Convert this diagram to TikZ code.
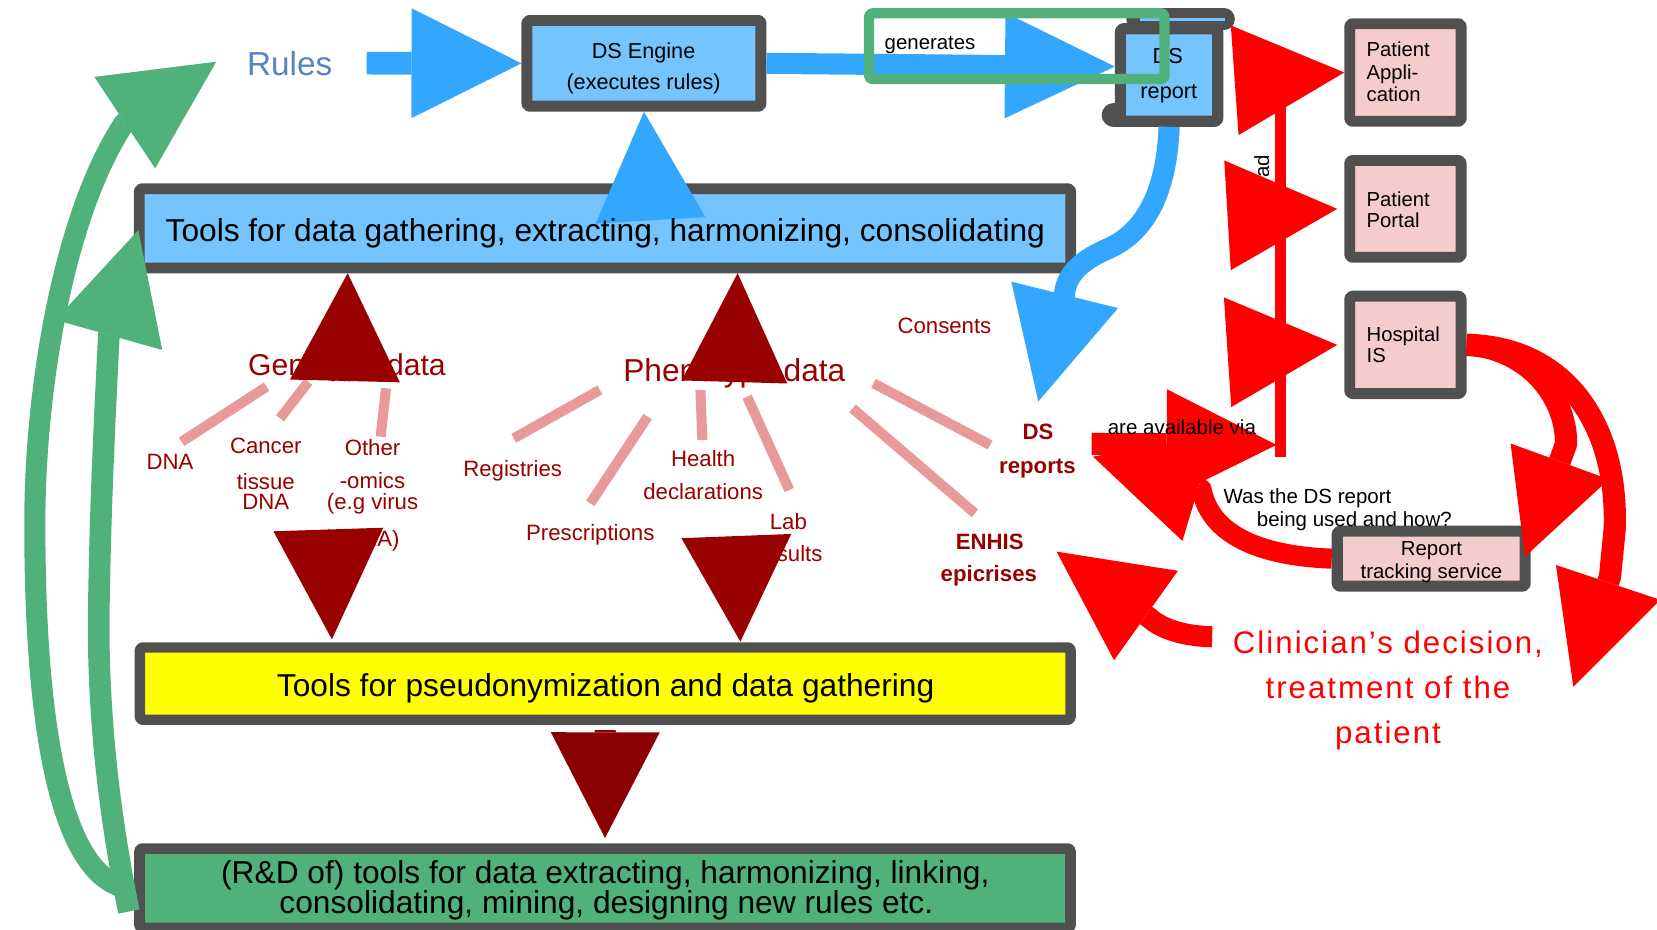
\documentclass[tikz,border=0pt]{standalone}
\usepackage{fontspec}
\setmainfont{Liberation Sans}
\usetikzlibrary{arrows.meta}

\definecolor{framegray}{RGB}{80,80,80}
\definecolor{skyfill}{RGB}{117,196,253}
\definecolor{flowblue}{RGB}{51,167,255}
\definecolor{rulesblue}{RGB}{85,132,196}
\definecolor{leafgreen}{RGB}{80,178,122}
\definecolor{maroon}{RGB}{153,0,0}
\definecolor{deepmaroon}{RGB}{139,0,0}
\definecolor{rosyline}{RGB}{232,153,153}
\definecolor{signalred}{RGB}{255,0,0}
\definecolor{rosefill}{RGB}{244,204,204}
\definecolor{lemon}{RGB}{255,255,0}

\newcommand{\sz}[1]{\fontsize{#1}{#1}\selectfont}

\begin{document}
\begin{tikzpicture}[x=1pt, y=-1pt,
  box/.style={draw=framegray, line width=10pt, rounded corners=2.5pt, inner sep=0pt},
  lbl/.style={anchor=base, inner sep=0pt},
  lblw/.style={anchor=base west, inner sep=0pt},
  leaf/.style={lbl, text=maroon, font=\sz{21}},
  leafb/.style={lbl, text=maroon, font=\bfseries\sz{21}},
  note/.style={lblw, font=\sz{19.4}},
  boxtxt/.style={lblw, font=\sz{19.2}},
  claim/.style={lbl, text=signalred, font=\sz{29.5}\addfontfeature{LetterSpace=6.5}},
  twig/.style={rosyline, line width=9.5pt},
  head/.style 2 args={-{Triangle[length=#1pt, width=#2pt, line width=0pt]}},
  line join=round
]
\useasboundingbox (0,0) rectangle (1568,880);

% ---------- end points of the free connectors ----------
\coordinate (dsin)        at (982.5,380);
\coordinate (toolsup)     at (615.3,204.2);
\coordinate (genoup)      at (326.4,361);
\coordinate (genoupend)   at (329,258.5);
\coordinate (genodown)    at (310.7,500.4);
\coordinate (genodownend) at (314.1,605);
\coordinate (phenoup)     at (695,361.8);
\coordinate (phenoupend)  at (698,258.5);
\coordinate (phenodown)   at (696.75,507);
\coordinate (phenodownend) at (700.6,607.2);
\coordinate (rulesgreen)  at (204.6,58.4);
\coordinate (toolsgreen)  at (130.9,217.8);
\coordinate (hubtop)      at (1212,80);
\coordinate (hubbot)      at (1212,432);
\coordinate (availsrc)    at (1033,420);
\coordinate (availtip)    at (1208,421);
\coordinate (usedtip)     at (1034.3,432.1);
\coordinate (innertip)    at (1443,526.8);
\coordinate (outertip)    at (1488.8,649.8);
\coordinate (clinsrc)     at (1147,602.5);
\coordinate (enhistip)    at (999.8,522);
\coordinate (appbase)     at (1172,75.7);
\coordinate (portalbase)  at (1166.1,203.5);
\coordinate (hospbase)    at (1166.1,333);

% ---------- thin links from the data groups to their items ----------
\draw[twig] (252.3,365.9) -- (171.9,418);
\draw[twig] (291.8,361.2) -- (265,395.8);
\draw[twig] (365.3,367.5) -- (360.2,413.2);
\draw[twig] (567.6,369) -- (486.2,414.8);
\draw[twig] (612.9,394.3) -- (558.6,476.3);
\draw[twig] (662.8,369) -- (664.6,416.4);
\draw[twig] (707,375.4) -- (746.9,463.7);
\draw[twig] (806.7,386.4) -- (922.5,485.7);
\draw[twig] (826.6,362.7) -- (937,421.1);

% ---------- DS engine ----------
\node[box, fill=skyfill, line width=10.4pt, minimum width=221.5pt, minimum height=81.1pt] (engine) at (609.35,59.95) {};
\node[lbl, font=\sz{20.5}] (engineA) at (609,55) {DS Engine};
\node[lbl, font=\sz{20.5}] (engineB) at (609,85) {(executes rules)};

% ---------- DS report (scroll) ----------
\draw[framegray, line width=20.5pt, line cap=round] (1076,18.2) -- (1158.3,18.2);
\draw[framegray, line width=23pt, line cap=round] (1054,108.8) -- (1066,108.8);
\node[box, fill=skyfill, line width=10.5pt, minimum width=92.1pt, minimum height=87.5pt] (dsr) at (1106.3,71) {};
\draw[skyfill, line width=2.6pt] (1079,18.6) -- (1159,18.6);
\node[lbl, font=\sz{20.5}] (dsrA) at (1105,60) {DS};
\node[lbl, font=\sz{20.5}] (dsrB) at (1106,93) {report};

% ---------- tool bars ----------
\node[box, fill=skyfill, line width=10.2pt, minimum width=881.4pt, minimum height=74.9pt] (tools) at (572.5,216.05) {};
\draw[flowblue, line width=1pt, head={103}{104}] (toolsup) -- (engine.south);
\node[lbl, font=\sz{30}] (toolsT) at (572.8,228.7) {Tools for data gathering, extracting, harmonizing, consolidating};

\node[box, fill=lemon, line width=9.8pt, minimum width=880.7pt, minimum height=68.4pt] (pseudo) at (572.75,646.9) {};
\node[lbl, font=\sz{30}] (pseudoT) at (573.1,659.2) {Tools for pseudonymization and data gathering};

\node[box, fill=leafgreen, minimum width=881pt, minimum height=75pt] (rd) at (572.5,840.5) {};
\node[lbl, font=\sz{30}] (rdA) at (572.8,835.9) {(R\&D of) tools for data extracting, harmonizing, linking,};
\node[lbl, font=\sz{30}] (rdB) at (573.8,864.3) {consolidating, mining, designing new rules etc.};

% ---------- consumers ----------
\node[box, fill=rosefill, line width=10.3pt, minimum width=105.4pt, minimum height=92.3pt] (patapp) at (1329.95,68.6) {};
\node[boxtxt] (patappA) at (1293,53.6) {Patient};
\node[boxtxt] (patappB) at (1293,75.7) {Appli-};
\node[boxtxt] (patappC) at (1293,96.2) {cation};

\node[box, fill=rosefill, line width=10.3pt, minimum width=105.4pt, minimum height=91.6pt] (portal) at (1329.95,197.65) {};
\node[boxtxt] (portalA) at (1293,195.6) {Patient};
\node[boxtxt] (portalB) at (1293,215.4) {Portal};

\node[box, fill=rosefill, line width=10.3pt, minimum width=105.4pt, minimum height=92.2pt] (hosp) at (1329.95,326.35) {};
\node[boxtxt] (hospA) at (1293,323.3) {Hospital};
\node[boxtxt] (hospB) at (1293,343.2) {IS};

\node[box, fill=rosefill, line width=10.5pt, minimum width=177.8pt, minimum height=52pt] (rts) at (1354.35,528.65) {};
\node[lbl, font=\sz{19.3}] (rtsA) at (1354.6,525.2) {Report};
\node[lbl, font=\sz{19.3}] (rtsB) at (1354.6,547.3) {tracking service};

% ---------- rules and the blue flow ----------
\node[lblw, text=rulesblue, font=\sz{31.5}] (rules) at (233.6,71) {Rules};
\draw[flowblue, line width=21.5pt, head={104}{104}] ([xshift=32.5pt]rules.east) -- (engine.west);
\draw[flowblue, line width=20pt, head={104}{100}] (engine.east) -- ([yshift=8pt]dsr.west);

\node[draw=leafgreen, line width=9.7pt, rounded corners=3pt, inner sep=0pt,
      minimum width=279.6pt, minimum height=62.2pt] (genframe) at (962.2,43.7) {};
\node[lblw, font=\sz{19.3}] (gen) at (837,47) {generates};

\draw[flowblue, line width=20pt, head={104}{104}] (dsr.south)
  .. controls (1104,180) and (1085,220) .. (1047,236)
  .. controls (1020,248) and (1008,262) .. (1007,281) -- (dsin);

% ---------- data groups ----------
\node[lbl, text=maroon, font=\sz{28.5}] (geno) at (328.3,355.8) {Genotype data};
\node[lbl, text=maroon, font=\sz{30}] (pheno) at (694.9,361.2) {Phenotype data};

\node[leaf] (dna) at (160.9,444) {DNA};
\node[leaf] (cancerA) at (251.5,429.6) {Cancer};
\node[leaf] (cancerB) at (251.5,463) {tissue};
\node[leaf] (cancerC) at (251.5,482) {DNA};
\node[leaf] (otherA) at (352.5,431.2) {Other};
\node[leaf] (otherB) at (352.5,462.1) {-omics};
\node[leaf] (otherC) at (352.5,482) {(e.g virus};
\node[leaf] (otherD) at (352.5,517.3) {RNA)};
\node[leaf] (registries) at (485.1,451) {Registries};
\node[leaf] (prescr) at (558.6,511.6) {Prescriptions};
\node[leaf] (healthA) at (665.4,441.6) {Health};
\node[leaf] (healthB) at (665.4,472.2) {declarations};
\node[leaf] (labA) at (746,500.9) {Lab};
\node[leaf] (labB) at (747.4,531.5) {results};
\node[leaf] (consents) at (893.7,316) {Consents};
\node[leafb] (dsrepA) at (982.2,415.7) {DS};
\node[leafb] (dsrepB) at (981.7,447.9) {reports};
\node[leafb] (enhisA) at (936.5,519.8) {ENHIS};
\node[leafb] (enhisB) at (935.7,550.4) {epicrises};

% ---------- dark red flow ----------
\draw[maroon, line width=1pt, head={102}{104}] (genoup) -- (genoupend);
\draw[maroon, line width=1pt, head={104}{104}] (genodown) -- (genodownend);
\draw[maroon, line width=1pt, head={103}{100}] (phenoup) -- (phenoupend);
\draw[maroon, line width=1pt, head={100}{104}] (phenodown) -- (phenodownend);
\draw[deepmaroon, line width=20pt, head={100}{103}] ([yshift=-5pt]pseudo.south) -- ([yshift=5pt]rd.north);

% ---------- green feedback ----------
\draw[leafgreen, line width=20pt, head={104}{104}] ([xshift=-5pt]rd.west)
  .. controls (58,832) and (32,690) .. (33,487)
  .. controls (34,360) and (62,200) .. (117.7,116.3) -- (rulesgreen);
\draw[leafgreen, line width=20.5pt, head={103}{105}] ([xshift=-5pt,yshift=-22pt]rd.west)
  .. controls (105,780) and (92,680) .. (93.5,577)
  .. controls (95,470) and (100,380) .. (103,317) -- (toolsgreen);

% ---------- red delivery ----------
\node[rotate=90, inner sep=0pt, font=\sz{19.4}] (readtag) at (1194,157.6) {ad};
\draw[signalred, line width=10.5pt] (hubtop) -- (hubbot);
\draw[signalred, line width=1pt, head={104}{104}] (appbase) -- (patapp.west);
\draw[signalred, line width=1pt, head={104}{104}] (portalbase) -- ([xshift=-6.7pt]portal.west);
\draw[signalred, line width=1pt, head={104}{104}] (hospbase) -- ([xshift=-6.7pt]hosp.west);
\draw[signalred, line width=21pt, head={104}{104}] (availsrc) -- (availtip);
\draw[signalred, line width=19pt, head={104}{104}] (rts.west)
  .. controls (1190,526) and (1145,505) .. (1137,463) -- (usedtip);
\draw[signalred, line width=21pt, head={96}{99}] (hosp.east)
  .. controls (1440,328) and (1482,370) .. (1482,420) -- (innertip);
\draw[signalred, line width=21pt, head={104}{104}] (hosp.east)
  .. controls (1480,328) and (1531,400) .. (1528,500) -- (1523.5,545.7) -- (outertip);
\draw[signalred, line width=20pt, head={104}{104}] (clinsrc)
  .. controls (1118,602) and (1098,594) .. (1088,585) -- (enhistip);

% ---------- notes ----------
\node[note] (avail) at (1048.1,410.7) {are available via};
\node[note] (usedA) at (1157.6,476.9) {Was the DS report};
\node[note] (usedB) at (1189.2,498.4) {being used and how?};

\node[claim] (clinA) at (1313.4,618.2) {Clinician’s decision,};
\node[claim] (clinB) at (1313.4,660.8) {treatment of the};
\node[claim] (clinC) at (1313.4,703.4) {patient};
\end{tikzpicture}
\end{document}
